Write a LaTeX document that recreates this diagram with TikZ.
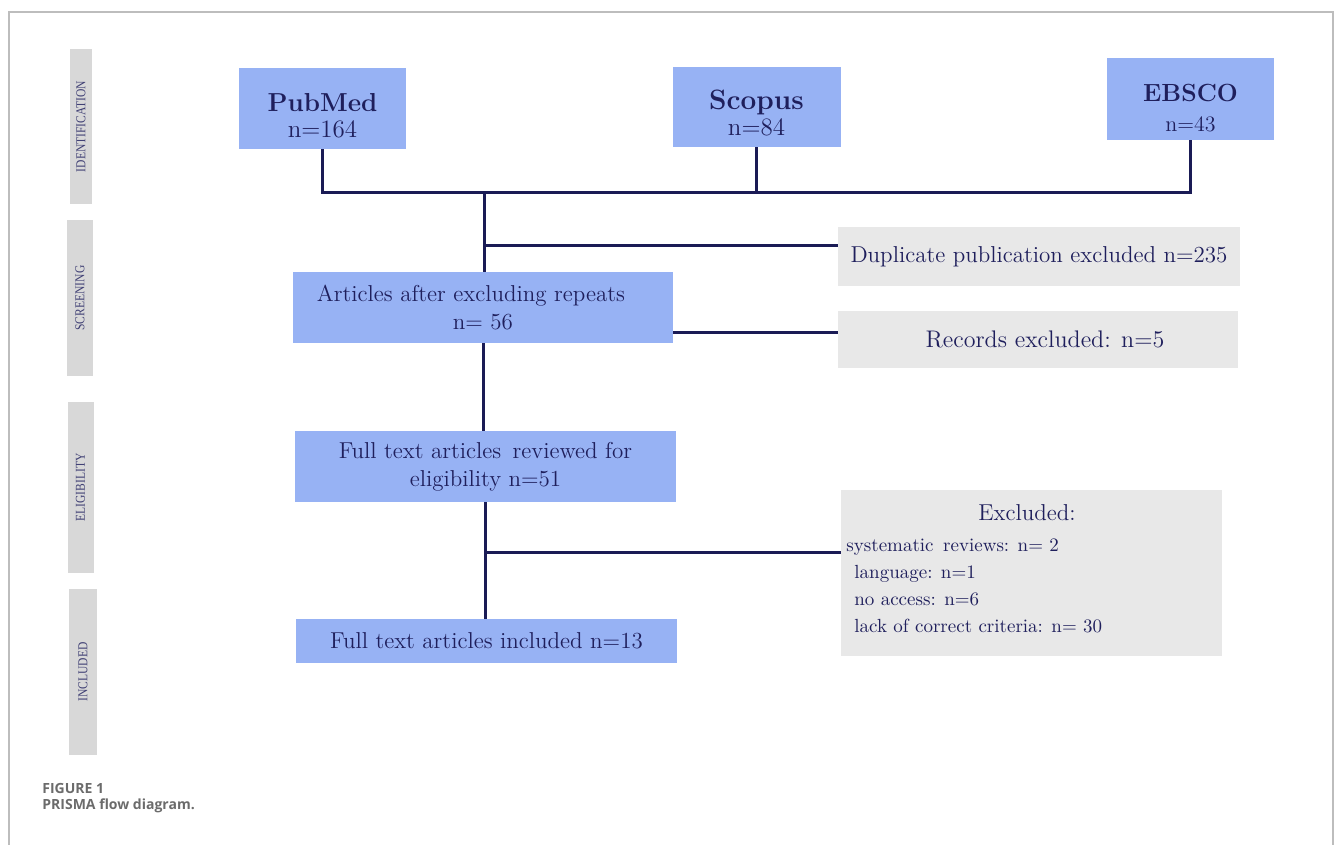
\documentclass[tikz,border=0pt]{standalone}
\usepackage{fontspec}
\newfontfamily\capfont{Open Sans}
\newfontfamily\phasefont{Liberation Serif}
\usepackage{tikz}
\usetikzlibrary{positioning}
\definecolor{boxblue}{HTML}{97B2F4}
\definecolor{boxgrey}{HTML}{E8E8E8}
\definecolor{sidegrey}{HTML}{D8D8D8}
\definecolor{navy}{HTML}{1F1F5C}
\definecolor{linenavy}{HTML}{1A1B55}
\definecolor{framegrey}{HTML}{BDBDBD}
\tikzset{basic/.style={inner sep=0pt,text=navy,align=center,
                       font=\fontsize{11.5}{14}\selectfont}}
\tikzset{dbbox/.style={basic,fill=boxblue}}
\tikzset{stagebox/.style={basic,fill=boxblue}}
\tikzset{outbox/.style={basic,fill=boxgrey,font=\fontsize{12}{14}\selectfont}}
\tikzset{phase/.style={fill=sidegrey,inner sep=0pt,text=navy!85,rotate=90,
                       font=\phasefont\fontsize{6.8}{7}\selectfont}}
\tikzset{link/.style={draw=linenavy,line width=1.5pt}}
\newcommand{\phasetext}[1]{\scalebox{0.85}[1]{#1}}

\begin{document}
\begin{tikzpicture}[x=0.5pt,y=-0.5pt]
  \useasboundingbox (0,0) rectangle (1335,845);
  % outer frame (open at the bottom)
  \draw[framegrey,line width=0.8pt] (9,845) -- (9,12) -- (1333,12) -- (1333,845);

  % phase labels on the left
  \node (ident)  [phase,minimum width=77.5pt,minimum height=11pt] at (81,126.5) {\phasetext{IDENTIFICATION}};
  \node (screen) [phase,minimum width=78pt,minimum height=13pt]   at (80,298)   {\phasetext{SCREENING}};
  \node (elig)   [phase,minimum width=85.5pt,minimum height=13pt] at (80.5,487.5) {\phasetext{ELIGIBILITY}};
  \node (incl)   [phase,minimum width=83pt,minimum height=14pt]   at (83,672)   {\phasetext{INCLUDED}};

  % databases
  \node (pubmed) [dbbox,minimum width=83.5pt,minimum height=40.5pt] at (322.5,108.5)
        {{\fontsize{13}{15}\selectfont\bfseries\rule{0pt}{16pt}PubMed}\\[-1pt]{\fontsize{12.5}{14}\selectfont n=164}};
  \node (scopus) [dbbox,minimum width=84pt,minimum height=40pt] at (756.5,107)
        {{\fontsize{14}{16}\selectfont\bfseries\rule{0pt}{16pt}Scopus}\\[-1pt]{\fontsize{12.5}{14}\selectfont n=84}};
  \node (ebsco)  [dbbox,minimum width=83.5pt,minimum height=41pt] at (1190.5,99)
        {{\fontsize{12.4}{15}\selectfont\bfseries\rule{0pt}{17.5pt}EBSCO}\\[1pt]{\fontsize{11}{13}\selectfont n=43}};

  % flow
  \node (articles) [stagebox,minimum width=190pt,minimum height=35.5pt] at (483,307.5)
        {\hspace*{-12pt}Articles after excluding repeats\\n= 56};
  \node (reviewed) [stagebox,minimum width=190.5pt,minimum height=35.5pt] at (485.5,466.5)
        {Full text articles\, reviewed for\\eligibility n=51};
  \node (included) [stagebox,minimum width=190.5pt,minimum height=22pt] at (486.5,641)
        {Full text articles included n=13};

  % exclusions
  \node (duplicate) [outbox,minimum width=201pt,minimum height=29.5pt,
                     font=\fontsize{11.5}{14}\selectfont] at (1039,256.5)
        {Duplicate publication excluded n=235};
  \node (records) [outbox,minimum width=200pt,minimum height=28.5pt] at (1038,339.5)
        {\hspace*{7pt}Records excluded: n=5};
  \node (excluded) [outbox,minimum width=190.5pt,minimum height=83pt] at (1031.5,573) {};
  \node (exhead) [basic,font=\fontsize{11.5}{13}\selectfont] at (1027,513) {Excluded:};
  \node (exlist) [basic,anchor=north west,align=left,
                  font=\fontsize{9.5}{13.5}\selectfont] at (846,538)
        {systematic\, reviews: n= 2\\
         \hspace*{4pt}language: n=1\\
         \hspace*{4pt}no access: n=6\\
         \hspace*{4pt}lack of correct criteria: n= 30};

  % joints of the connectors
  \coordinate (join)   at (484,193);
  \coordinate (dupln)  at (484,246);
  \coordinate (recln)  at (700,333);
  \coordinate (exln)   at (485,553);

  \draw[link] (pubmed.south) |- (ebsco.south |- join) -- (ebsco.south);
  \draw[link] (scopus.south) -- (scopus.south |- join);
  \draw[link] (join) -- (join |- articles.north);
  \draw[link] (dupln) -- (duplicate.west |- dupln);
  \draw[link] (articles.east |- recln) -- (records.west |- recln);
  \draw[link] (articles.south) -- (articles.south |- reviewed.north);
  \draw[link] (reviewed.south) -- (reviewed.south |- included.north);
  \draw[link] (exln) -- (excluded.west |- exln);

  % caption
  \node (figno) [anchor=west,text=black!58,inner sep=0pt,
                 font=\capfont\bfseries\fontsize{7}{8}\selectfont] at (42,788) {FIGURE 1};
  \node (figcap) [anchor=west,text=black!58,inner sep=0pt,
                  font=\capfont\bfseries\fontsize{7}{8}\selectfont] at (42,806) {PRISMA flow diagram.};
\end{tikzpicture}
\end{document}
